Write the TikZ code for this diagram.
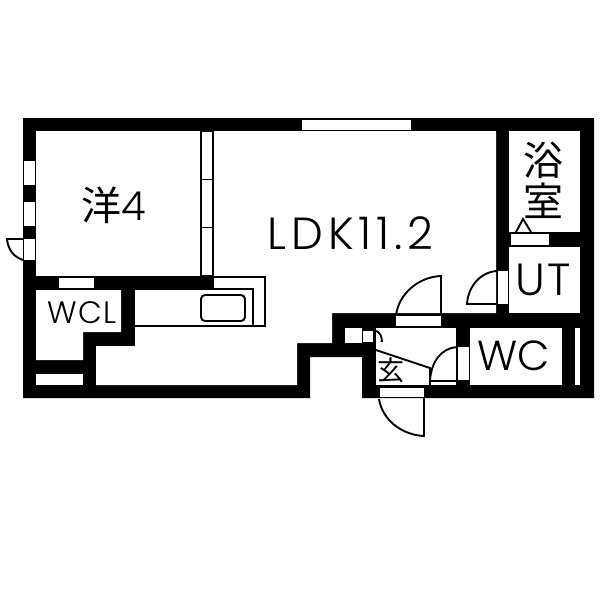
\documentclass[tikz,border=0pt]{standalone}
\usepackage{fontspec}
\setmainfont{Poppins}[UprightFont=* Light]
\newfontfamily\cjkfont{Noto Sans CJK JP}
\usetikzlibrary{calc}
\usetikzlibrary{positioning}
\tikzset{
  roomfill/.style={fill=white, draw=none},
  openbox/.style={fill=white, draw=black, line width=1.5pt},
  thinline/.style={draw=black, line width=1.9pt},
  roomlabel/.style={inner sep=0pt, text=black}
}
\begin{document}
\begin{tikzpicture}[x=1pt, y=-1pt]
  \useasboundingbox (0,0) rectangle (600,600);

  % Outer walls
  \fill[black] (23,118) -- (594,118) -- (594,398) -- (362,398) -- (362,357) -- (310,357)
    -- (310,398) -- (23,398) -- cycle;

  % Rooms
  \path[roomfill] (36,131) rectangle (200,276);
  \path[roomfill] (214,131) -- (496,131) -- (496,313) -- (332,313) -- (332,343) -- (297,343)
    -- (297,385) -- (96,385) -- (96,346) -- (135,346) -- (135,290) -- (214,290) -- cycle;
  \path[roomfill] (36,290) -- (121,290) -- (121,332) -- (83,332) -- (83,360) -- (36,360) -- cycle;
  \path[roomfill] (36,374) rectangle (83,385);
  \path[roomfill] (509,131) rectangle (580,232);
  \path[roomfill] (509,247) rectangle (580,313);
  \path[roomfill] (470,328) rectangle (562,385);
  \path[roomfill] (575,328) rectangle (580,385);
  \path[roomfill] (376,328) rectangle (456,385);
  \path[roomfill] (345,328) rectangle (362,343);

  % Windows and door openings
  \path[roomfill] (302,120) rectangle (411,129.5);
  \path[roomfill] (24,161) rectangle (34.8,185);
  \path[roomfill] (24,202) rectangle (34.8,226);
  \path[roomfill] (24,239) rectangle (34.8,260);
  \path[roomfill] (59,278) rectangle (94,288);
  \path[roomfill] (511,234) rectangle (549,245);
  \path[roomfill] (498,271) rectangle (507.5,304);
  \path[roomfill] (458,347) rectangle (468.5,380);
  \path[roomfill] (396,316) rectangle (441,326);
  \path[roomfill] (380,387.5) rectangle (424,396.5);
  \path[roomfill] (363,331) rectangle (373,342);

  % Closet
  \draw[openbox] (201,131) rectangle (213,276);
  \draw[thinline, line width=1pt] (201,179) -- (213,179);
  \draw[thinline, line width=1pt] (201,227) -- (213,227);

  % Kitchen
  \draw[thinline, line width=1.5pt] (214,277) -- (265,277) -- (265,326) -- (135,326);
  \draw[thinline, line width=2.5pt] (214,289) -- (253,289) -- (253,326);
  \draw[thinline, rounded corners=4pt] (201,295) rectangle (245,321);

  % Labels
  \node[roomlabel] (western) at (114,205) {\fontsize{40}{40}\selectfont{\cjkfont 洋}4};
  \node[roomlabel] (ldk) at (350.5,233) {\fontsize{45}{45}\selectfont\addfontfeatures{LetterSpace=11}LDK11.2};
  \node[roomlabel] (wcl) at (82,312.5) {\fontsize{31}{31}\selectfont\addfontfeatures{LetterSpace=3}WCL};
  \node[roomlabel] (ut) at (543,280) {\fontsize{45}{45}\selectfont\addfontfeatures{LetterSpace=4}UT};
  \node[roomlabel] (wc) at (514,356) {\fontsize{42}{42}\selectfont WC};
  \node[roomlabel] (bath1) at (543,160) {\fontsize{40}{40}\selectfont\cjkfont 浴};
  \node[roomlabel] (bath2) at (543,201) {\fontsize{40}{40}\selectfont\cjkfont 室};
  \node[roomlabel] (entry) at (391,370) {\fontsize{27}{27}\selectfont\cjkfont 玄};

  % Doors
  \draw[thinline] (23,239) -- (7,239) .. controls (8,250) and (14,257) .. (23,260);
  \draw[thinline] (396,315) .. controls (399,294) and (418,277) .. (441,276) -- (441,315);
  \draw[thinline] (497,271) .. controls (480,272) and (468,287) .. (467,304) -- (497,304);
  \draw[thinline] (457,347) .. controls (442,348) and (431,361) .. (430,381) -- (457,381);
  \draw[thinline] (379,399) .. controls (382,419) and (401,435) .. (424,436) -- (424,398);
  \draw[thinline] (376,331) .. controls (380,332) and (382,337) .. (382,342) -- (375,342);

  % Entrance floor line
  \path[roomfill] (376,340) -- (430,358) -- (430,366) -- (376,348) -- cycle;
  \draw[thinline] (376,350) -- (430,368) -- (430,385);

  % Bath step
  \draw[thinline] (516,232) -- (523,219) -- (531,232);
\end{tikzpicture}
\end{document}
